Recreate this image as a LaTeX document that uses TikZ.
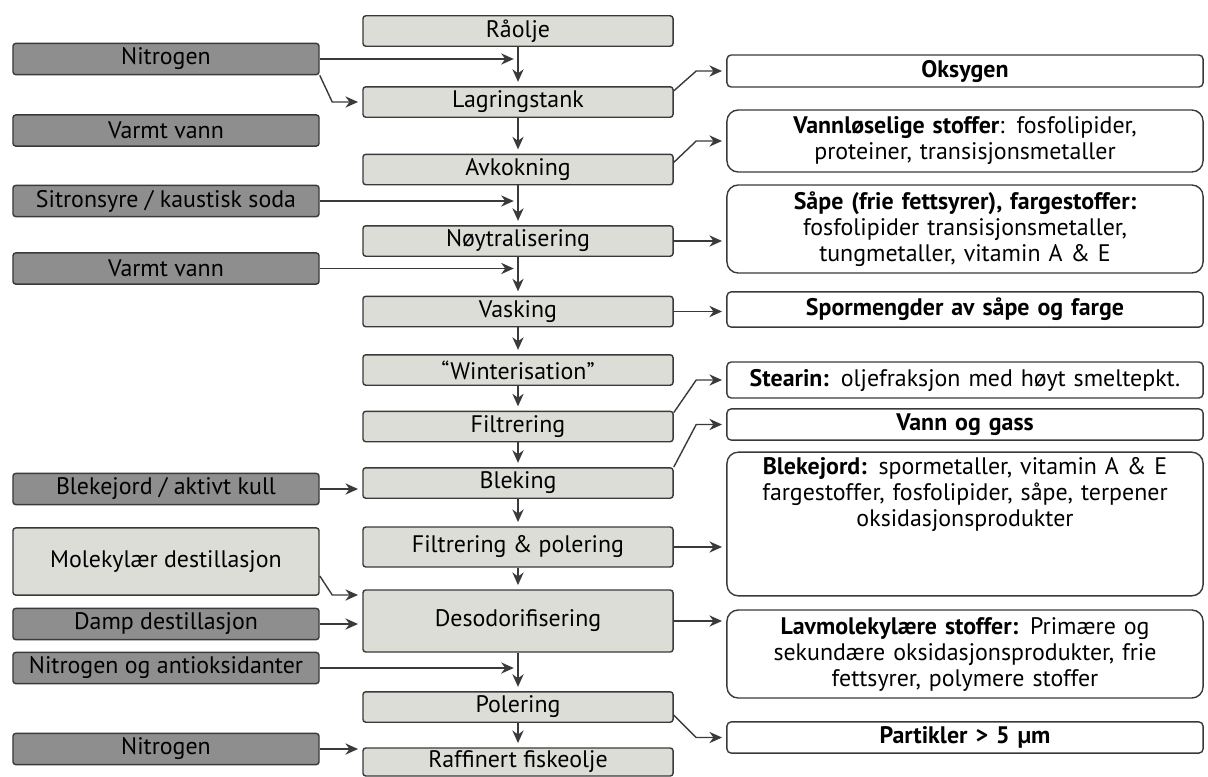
\documentclass[tikz,border=0pt]{standalone}
\usepackage{fontspec}
\setmainfont{PT Sans}
\usetikzlibrary{arrows.meta,positioning}
\definecolor{boxgray}{RGB}{221,221,216}
\definecolor{ingray}{RGB}{142,142,142}
\definecolor{edgegray}{RGB}{58,58,58}
\tikzset{
    myptr/.style={
        -{Stealth[length=9pt,width=8pt]},
        draw=edgegray,
        line width=1pt,
        shorten >=3pt
    },
    stepbox/.style={
        draw=edgegray, line width=1pt, fill=boxgray,
        rounded corners=2pt, inner sep=0pt,
        minimum width=7.75cm, minimum height=0.76cm
    },
    inbox/.style={
        stepbox, fill=ingray, minimum width=7.65cm, minimum height=0.78cm
    },
    outbox/.style={
        draw=edgegray, line width=1pt, fill=white,
        rounded corners=3pt, align=center, text width=11.7cm,
        minimum width=11.9cm, minimum height=0.78cm, inner sep=2pt
    },
    bigbox/.style={
        outbox, rounded corners=8pt
    }
}

\begin{document}
\begin{tikzpicture}[x=0.025cm, y=-0.025cm, font=\fontsize{17}{18.5}\selectfont]
        \useasboundingbox (0,0) rectangle (1208,776);

        % main process column
        \node[stepbox] (raa) at (518,31) {Råolje};
        \node[stepbox] (lag) at (518,102) {Lagringstank};
        \node[stepbox] (avk) at (518,169.5) {Avkokning};
        \node[stepbox] (noy) at (518,241) {Nøytralisering};
        \node[stepbox] (vask) at (518,311.5) {Vasking};
        \node[stepbox] (win) at (518,370) {“Winterisation”};
        \node[stepbox] (filt) at (518,426.5) {Filtrering};
        \node[stepbox] (blk) at (518,483) {Bleking};
        \node[stepbox, minimum height=1cm] (fp) at (518,547) {Filtrering \& polering};
        \node[stepbox, minimum height=1.55cm] (des) at (518,621) {Desodorifisering};
        \node[stepbox] (pol) at (518,707) {Polering};
        \node[stepbox, minimum height=0.7cm] (raf) at (518,762) {Raffinert fiskeolje};

        % added substances
        \node[inbox] (nit1) at (166,59) {Nitrogen};
        \node[inbox] (vv1) at (166,130.5) {Varmt vann};
        \node[inbox] (sit) at (166,201) {Sitronsyre / kaustisk soda};
        \node[inbox] (vv2) at (166,268.5) {Varmt vann};
        \node[inbox] (bak) at (166,489) {Blekejord / aktivt kull};
        \node[inbox, fill=boxgray, minimum height=1.68cm] (mol) at (166,561.5) {Molekylær destillasjon};
        \node[inbox] (dmp) at (166,624) {Damp destillasjon};
        \node[inbox] (noa) at (166,668) {Nitrogen og antioksidanter};
        \node[inbox] (nit2) at (166,749) {Nitrogen};

        % removed substances
        \node[outbox, minimum height=0.8cm] (oks) at (965,71) {\bfseries Oksygen};
        \node[bigbox, minimum height=1.55cm] (vnl) at (965,141)
            {{\bfseries Vannløselige stoffer}: fosfolipider,\\ proteiner, transisjonsmetaller};
        \node[bigbox, minimum height=2.2cm] (saape) at (965,229)
            {{\bfseries Såpe (frie fettsyrer), fargestoffer:}\\ fosfolipider transisjonsmetaller,\\ tungmetaller, vitamin A \& E};
        \node[outbox, minimum height=0.88cm] (spor) at (965,309.5) {\bfseries Spormengder av såpe og farge};
        \node[outbox, minimum height=0.9cm] (stea) at (965,380) {{\bfseries Stearin:} oljefraksjon med høyt smeltepkt.};
        \node[outbox] (vog) at (965,424.5) {\bfseries Vann og gass};
        \node[bigbox, minimum height=3.55cm] (blj) at (965,524)
            {\parbox[c][3.45cm][t]{11.7cm}{\centering\vspace{2pt}{\bfseries Blekejord:} spormetaller, vitamin A \& E\\ fargestoffer, fosfolipider, såpe, terpener\\ oksidasjonsprodukter}};
        \node[bigbox, minimum height=2.2cm] (lav) at (965,654)
            {{\bfseries Lavmolekylære stoffer:} Primære og\\ sekundære oksidasjonsprodukter, frie\\ fettsyrer, polymere stoffer};
        \node[outbox] (part) at (965,737.5) {\bfseries Partikler > 5 µm};

        % draw main flow
        \foreach \a/\b in {raa/lag, lag/avk, avk/noy, noy/vask, vask/win, win/filt, filt/blk, blk/fp, fp/des, des/pol, pol/raf}
        {
            \draw[myptr] (\a) -- (\b);
        }

        % draw inputs
        \draw[myptr] (nit1.east) -- (nit1.east -| raa.south);
        \draw[myptr] (nit1.south east) -- ([xshift=-0.75cm]lag.west) -- (lag.west);
        \draw[myptr] (sit.east) -- (sit.east -| avk.south);
        \draw[myptr] (vv2.east) -- (vv2.east -| noy.south);
        \draw[myptr] (bak.east) -- (bak.east -| blk.west);
        \draw[myptr] ([yshift=-0.36cm]mol.east) -- ([xshift=-0.75cm,yshift=0.65cm]des.west) -- ([yshift=0.65cm]des.west);
        \draw[myptr] (dmp.east) -- (dmp.east -| des.west);
        \draw[myptr] (noa.east) -- (noa.east -| des.south);
        \draw[myptr] (nit2.east) -- (nit2.east -| raf.west);

        % draw outputs
        \draw[myptr] ([yshift=-0.12cm]lag.north east) -- ([xshift=-0.75cm]oks.west) -- (oks.west);
        \draw[myptr] ([yshift=-0.22cm]avk.north east) -- ([xshift=-0.75cm]vnl.west) -- (vnl.west);
        \draw[myptr] (noy.east) -- (noy.east -| saape.west);
        \draw[myptr] (vask.east) -- (vask.east -| spor.west);
        \draw[myptr] ([yshift=-0.05cm]filt.north east) -- ([xshift=-0.75cm]stea.west) -- (stea.west);
        \draw[myptr] (blk.north east) -- ([xshift=-0.75cm]vog.west) -- (vog.west);
        \draw[myptr] (fp.east) -- (fp.east -| blj.west);
        \draw[myptr] (des.east) -- (des.east -| lav.west);
        \draw[myptr] ([yshift=-0.2cm]pol.east) -- ([xshift=-0.75cm]part.west) -- (part.west);
    \end{tikzpicture}
\end{document}
